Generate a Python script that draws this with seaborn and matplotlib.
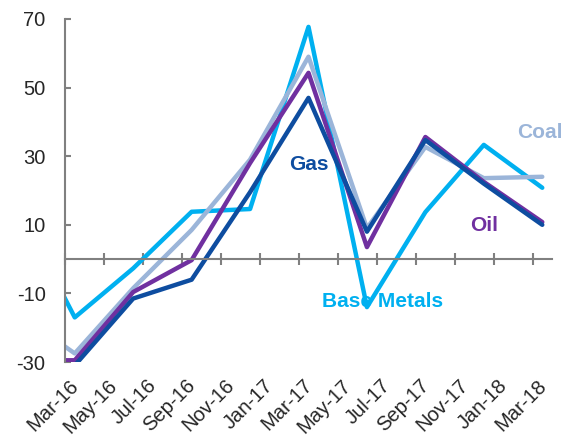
import numpy as np
import pandas as pd
import matplotlib
matplotlib.use("Agg")
import matplotlib.pyplot as plt
import seaborn as sns


# months counted from Mar-16 (quarterly points, first one clipped by the axis)
months = [-3, 0, 3, 6, 9, 12, 15, 18, 21, 24]

base_metals = [16, -17, -2.7, 13.8, 14.6, 67.7, -14, 13.7, 33.3, 20.8]
coal = [-15.5, -27.5, -8.5, 8.5, 29, 59, 9, 32.7, 23.6, 24]
oil = [-29.5, -29.5, -9.6, -0.3, 28, 54.3, 3.5, 35.6, 22.5, 10.8]
gas = [-31, -31, -11.5, -6, 19.5, 47, 8, 34.7, 22, 10]

tick_months = list(range(0, 25, 2))
tick_labels = ['Mar-16', 'May-16', 'Jul-16', 'Sep-16', 'Nov-16', 'Jan-17', 'Mar-17',
               'May-17', 'Jul-17', 'Sep-17', 'Nov-17', 'Jan-18', 'Mar-18']

colors = {'Base Metals': '#00B0F0', 'Coal': '#9BB5D9', 'Oil': '#7030A0', 'Gas': '#0E4DA0'}

# series label positions (month, value)
label_pos = {'Gas': (12, 27.7), 'Coal': (23.9, 36.8), 'Oil': (21, 9.9), 'Base Metals': (15.8, -12.5)}


df = pd.concat([
    pd.DataFrame({'month': months, 'value': base_metals, 'series': 'Base Metals'}),
    pd.DataFrame({'month': months, 'value': coal, 'series': 'Coal'}),
    pd.DataFrame({'month': months, 'value': oil, 'series': 'Oil'}),
    pd.DataFrame({'month': months, 'value': gas, 'series': 'Gas'}),
])

sns.set_style("white")
plt.rcParams['font.family'] = ['Liberation Sans', 'DejaVu Sans']
plt.rcParams['axes.unicode_minus'] = False

fig = plt.figure(figsize=(5.67, 4.38), dpi=100)
ax = fig.add_axes([65 / 567, 1 - 362 / 438, 487 / 567, 343 / 438])

sns.lineplot(data=df, x='month', y='value', hue='series', palette=colors,
             hue_order=['Base Metals', 'Coal', 'Oil', 'Gas'],
             linewidth=3.2, legend=False, ax=ax)

ax.set_xlim(-0.5, 24.5)
ax.set_ylim(-30, 70)
ax.set_xlabel("")
ax.set_ylabel("")

grey = '#808080'
for s in ['top', 'right']:
    ax.spines[s].set_visible(False)
ax.spines['left'].set_color(grey)
ax.spines['left'].set_linewidth(1.5)
ax.spines['bottom'].set_color(grey)
ax.spines['bottom'].set_linewidth(1.5)
ax.spines['bottom'].set_position(('data', 0))

ax.set_yticks([-30, -10, 10, 30, 50, 70])
ax.tick_params(axis='y', direction='in', length=4, width=1.5, color=grey,
               labelsize=14.5, pad=14, left=True)

# tick marks on the zero line, between the month labels
ax.set_xticks(np.arange(-0.5, 24, 2))
ax.set_xticklabels([])
ax.tick_params(axis='x', direction='inout', length=9, width=1.5, color=grey, bottom=True)

# month labels at the bottom of the plot
sec = ax.secondary_xaxis('bottom')
sec.spines['bottom'].set_visible(False)
sec.set_xticks([m - 0.3 for m in tick_months])
sec.set_xticklabels(tick_labels, rotation=45, ha='right', rotation_mode='anchor')
sec.tick_params(axis='x', length=0, pad=10, labelsize=14.5)

for name, (mx, my) in label_pos.items():
    ax.text(mx, my, name, color=colors[name], fontsize=15, fontweight='bold',
            ha='center', va='center')

fig.savefig("out.png", dpi=100)
